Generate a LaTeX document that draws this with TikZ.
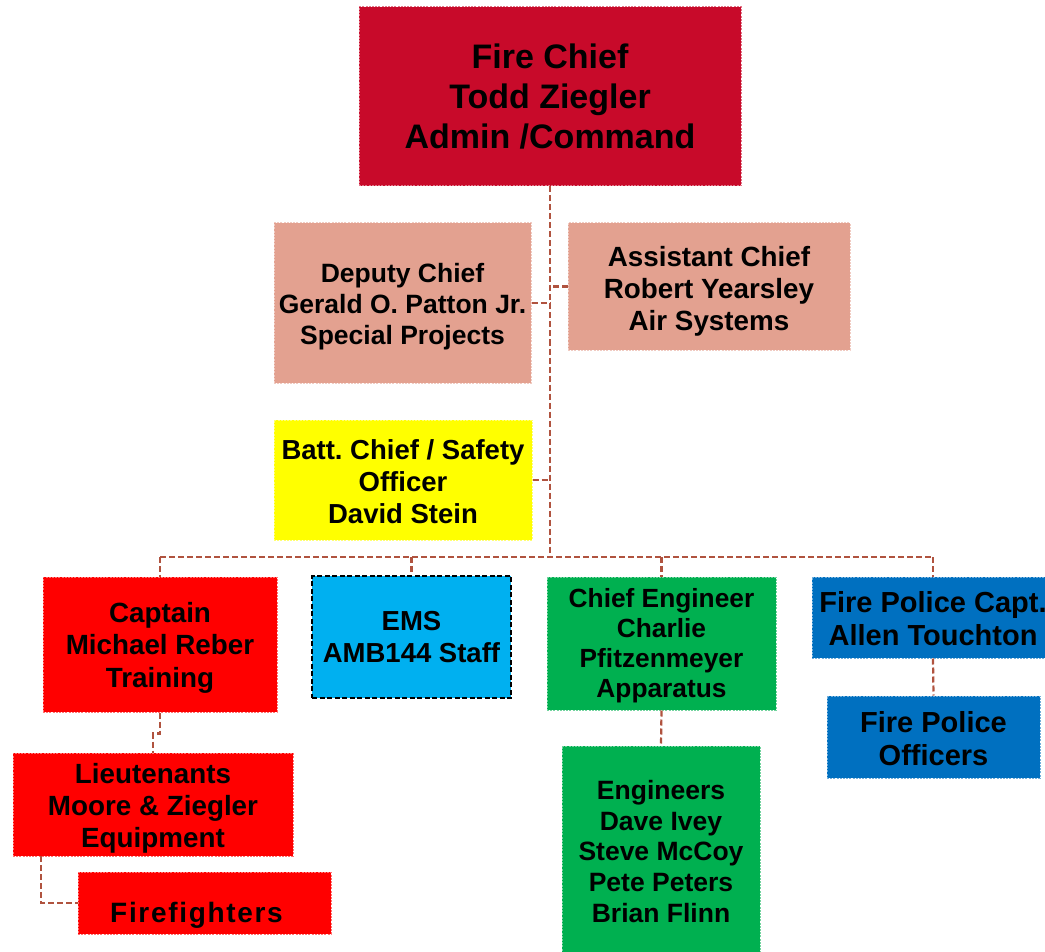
\documentclass[tikz,border=0pt]{standalone}
\usepackage{fontspec}
\setmainfont{Liberation Sans}
\definecolor{chiefc}{HTML}{C80A2A}
\definecolor{salmon}{HTML}{E3A190}
\definecolor{yel}{HTML}{FFFF00}
\definecolor{redc}{HTML}{FF0000}
\definecolor{emsc}{HTML}{00B0F0}
\definecolor{greenc}{HTML}{00B050}
\definecolor{bluec}{HTML}{0070C0}
\definecolor{connc}{HTML}{B0533F}
\newcommand{\lift}[1]{\rule{0pt}{#1pt}}
\tikzset{
  box/.style={fill=#1, draw=#1!55!white, dash pattern=on 2pt off 1.2pt, line width=1pt,
    inner sep=0pt, align=center, text=black},
  fsz/.style n args={2}{font=\fontsize{#1}{#2}\selectfont\bfseries\frenchspacing},
  conn/.style={draw=connc, line width=2.2pt, dash pattern=on 6pt off 3pt},
}
\begin{document}
\begin{tikzpicture}[x=1pt,y=-1pt]
\useasboundingbox (0,0) rectangle (1045,952);
\clip (0,0) rectangle (1045,952);
\node[box=chiefc, fsz={34pt}{40pt}, minimum width=382pt, minimum height=179pt] (chief) at (550,96.5)
  {Fire Chief\\Todd Ziegler\\Admin /Command};
\node[box=salmon, fsz={26.5pt}{31pt}, minimum width=257pt, minimum height=160pt] (deputy) at (402.5,303)
  {\lift{27.3}Deputy Chief\\Gerald O. Patton Jr.\\Special Projects};
\node[box=salmon, fsz={27.8pt}{32pt}, minimum width=282pt, minimum height=127pt] (assistant) at (709,286.5)
  {\lift{29.3}Assistant Chief\\Robert Yearsley\\Air Systems};
\node[box=yel, fsz={27.5pt}{32pt}, minimum width=258pt, minimum height=120pt] (batt) at (403,480)
  {\lift{23}Batt. Chief / Safety\\Officer\\David Stein};
\node[box=redc, fsz={27.8pt}{32.5pt}, minimum width=234pt, minimum height=135pt] (captain) at (160,644.5)
  {\lift{26.3}Captain\\Michael Reber\\Training};
\node[fill=emsc, draw=black, dash pattern=on 5pt off 2.5pt, line width=2pt, inner sep=0pt, align=center,
  fsz={27.5pt}{32pt}, minimum width=199pt, minimum height=122pt] (ems) at (411.5,637)
  {EMS\\AMB144 Staff};
\node[box=greenc, fsz={26.3pt}{30pt}, minimum width=229pt, minimum height=133pt] (chiefeng) at (661.5,643.5)
  {\lift{24.2}Chief Engineer\\Charlie\\Pfitzenmeyer\\Apparatus};
\node[box=bluec, fsz={29pt}{33pt}, minimum width=242pt, minimum height=81pt] (firepol) at (933,617.5)
  {\lift{23.2}Fire Police Capt.\\Allen Touchton};
\node[box=bluec, fsz={29pt}{33pt}, minimum width=213pt, minimum height=82pt] (officers) at (933.5,737)
  {\lift{24.2}Fire Police\\Officers};
\node[box=redc, fsz={27.8pt}{32pt}, minimum width=280pt, minimum height=103pt] (lieut) at (153,804.5)
  {\lift{28.3}Lieutenants\\Moore \& Ziegler\\Equipment};
\node[box=redc, fsz={28pt}{30pt}, minimum width=253pt, minimum height=62pt, text height=42pt, text depth=4pt] (ff) at (204.5,903)
  {\addfontfeature{LetterSpace=6}Firefighters\hspace*{16pt}};
\node[box=greenc, fsz={26.5pt}{30.7pt}, minimum width=198pt, minimum height=211pt] (engineers) at (661,851.5)
  {Engineers\\Dave Ivey\\Steve McCoy\\Pete Peters\\Brian Flinn};
% connectors
\coordinate (bus) at (550,557);
\draw[conn] (chief.south) -- (bus);
\draw[conn] (deputy.east) -- (deputy.east -| chief.south);
\draw[conn] (assistant.west) -- (assistant.west -| chief.south);
\draw[conn] (batt.east) -- (batt.east -| chief.south);
\draw[conn] (captain.north |- bus) -- (firepol.north |- bus);
\draw[conn] (captain.north |- bus) -- (captain.north);
\draw[conn] (ems.north |- bus) -- (ems.north);
\draw[conn] (chiefeng.north |- bus) -- (chiefeng.north);
\draw[conn] (firepol.north |- bus) -- (firepol.north);
\draw[conn] (captain.south) -- ++(0,21) -| (lieut.north);
\coordinate (lft) at (41,856);
\draw[conn] (lft) |- (ff.west);
\draw[conn] (chiefeng.south) -- (engineers.north);
\draw[conn] (firepol.south) -- (officers.north);
\end{tikzpicture}
\end{document}
